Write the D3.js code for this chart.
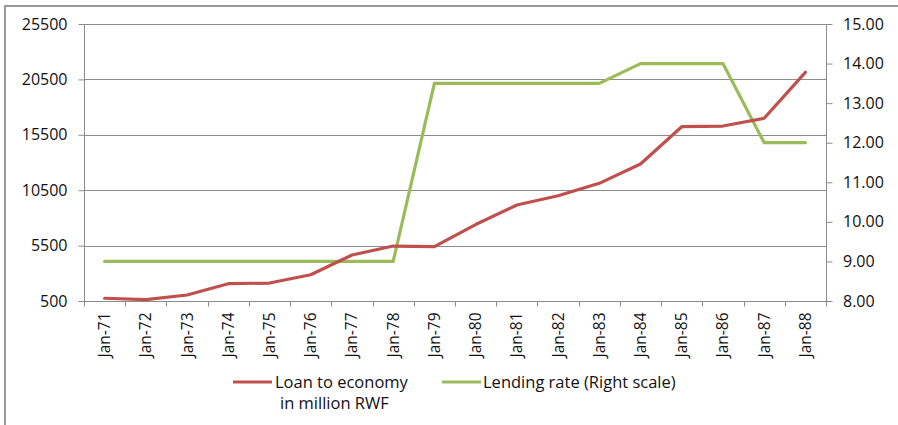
<!DOCTYPE html>
<html>
<head>
<meta charset="utf-8">
<script src="https://cdn.jsdelivr.net/npm/d3@7/dist/d3.min.js"></script>
<style>
  html, body { margin: 0; padding: 0; background: #fff; }
  svg { display: block; }
  text { font-family: "Open Sans", "Noto Sans", sans-serif; fill: #111; }
</style>
</head>
<body>
<svg id="chart" width="898" height="425"></svg>
<script>
// Years (January of each year)
const categories = ["Jan-71","Jan-72","Jan-73","Jan-74","Jan-75","Jan-76","Jan-77","Jan-78","Jan-79",
                    "Jan-80","Jan-81","Jan-82","Jan-83","Jan-84","Jan-85","Jan-86","Jan-87","Jan-88"];
// Loan to economy, million RWF (left scale)
const loanValues = [750, 620, 1040, 2060, 2120, 2870, 4650, 5460, 5400,
                    7400, 9160, 10000, 11120, 12860, 16230, 16290, 16990, 21140];
// Lending rate, percent (right scale)
const rateValues = [9, 9, 9, 9, 9, 9, 9, 9, 13.5,
                    13.5, 13.5, 13.5, 13.5, 14, 14, 14, 12, 12];
const leftTicks = [500, 5500, 10500, 15500, 20500, 25500];
const rightTicks = [8, 9, 10, 11, 12, 13, 14, 15];
const seriesNames = ["Loan to economy", "in million RWF", "Lending rate (Right scale)"];

const svg = d3.select("#chart");
const plot = { left: 84, right: 826, top: 24, bottom: 301 };
const gridColor = "#8c8c8c";
const red = "#C0504D", green = "#9BBB59";

// Outer frame (top and left edges visible)
svg.append("path")
  .attr("d", "M5,425 V6 H898")
  .attr("fill", "none").attr("stroke", "#9a9a9a").attr("stroke-width", 2);

const x = d3.scaleBand().domain(categories).range([plot.left, plot.right]);
const yL = d3.scaleLinear().domain([500, 25500]).range([plot.bottom, plot.top]);
const yR = d3.scaleLinear().domain([8, 15]).range([plot.bottom, plot.top]);

// Horizontal gridlines
svg.append("g").selectAll("line").data(leftTicks.slice(1)).join("line")
  .attr("x1", plot.left).attr("x2", plot.right)
  .attr("y1", d => Math.round(yL(d)) + 0.5).attr("y2", d => Math.round(yL(d)) + 0.5)
  .attr("stroke", gridColor).attr("stroke-width", 1);

// Left axis
const gL = svg.append("g").attr("transform", `translate(${plot.left + 0.5},0)`)
  .call(d3.axisLeft(yL).tickValues(leftTicks).tickSize(6).tickPadding(11).tickFormat(d3.format("d")));
// Right axis
const gR = svg.append("g").attr("transform", `translate(${plot.right + 0.5},0)`)
  .call(d3.axisRight(yR).tickValues(rightTicks).tickSize(6).tickPadding(10.5).tickFormat(d3.format(".2f")));
// Bottom axis with ticks between categories
const gB = svg.append("g").attr("transform", `translate(0,${plot.bottom + 0.5})`);
gB.append("line").attr("x1", plot.left).attr("x2", plot.right + 6)
  .attr("stroke", gridColor);
const boundaries = d3.range(categories.length + 1).map(i => plot.left + i * x.step());
gB.selectAll("line.tk").data(boundaries).join("line").attr("class", "tk")
  .attr("x1", d => Math.round(d) + 0.5).attr("x2", d => Math.round(d) + 0.5)
  .attr("y1", 0).attr("y2", 5).attr("stroke", gridColor);
gB.selectAll("text").data(categories).join("text")
  .attr("transform", d => `translate(${x(d) + x.bandwidth() / 2 + 5.5},11) rotate(-90)`)
  .attr("text-anchor", "end")
  .style("font-size", "15.5px")
  .text(d => d);

[gL, gR].forEach(g => {
  g.select(".domain").attr("stroke", gridColor).attr("d", `M0,${plot.top}V${plot.bottom}`);
  g.selectAll(".tick line").attr("stroke", gridColor);
  g.selectAll(".tick text").style("font-size", "16px").attr("fill", "#111");
});

// Series lines
const cx = d => x(d) + x.bandwidth() / 2;
svg.append("path").datum(categories.map((c, i) => [cx(c), yR(rateValues[i])]))
  .attr("d", d3.line()).attr("fill", "none").attr("stroke", green)
  .attr("stroke-width", 3.2).attr("stroke-linejoin", "round").attr("stroke-linecap", "round");
svg.append("path").datum(categories.map((c, i) => [cx(c), yL(loanValues[i])]))
  .attr("d", d3.line()).attr("fill", "none").attr("stroke", red)
  .attr("stroke-width", 3.2).attr("stroke-linejoin", "round").attr("stroke-linecap", "round");

// Legend
const lg = svg.append("g");
lg.append("line").attr("x1", 233).attr("x2", 272).attr("y1", 382).attr("y2", 382)
  .attr("stroke", red).attr("stroke-width", 3.2);
lg.append("text").attr("x", 275).attr("y", 388).style("font-size", "16.5px").text(seriesNames[0]);
lg.append("text").attr("x", 280).attr("y", 409).style("font-size", "16.5px").text(seriesNames[1]);
lg.append("line").attr("x1", 442).attr("x2", 481).attr("y1", 382).attr("y2", 382)
  .attr("stroke", green).attr("stroke-width", 3.2);
lg.append("text").attr("x", 483).attr("y", 388).style("font-size", "16.5px").text(seriesNames[2]);
</script>
</body>
</html>
